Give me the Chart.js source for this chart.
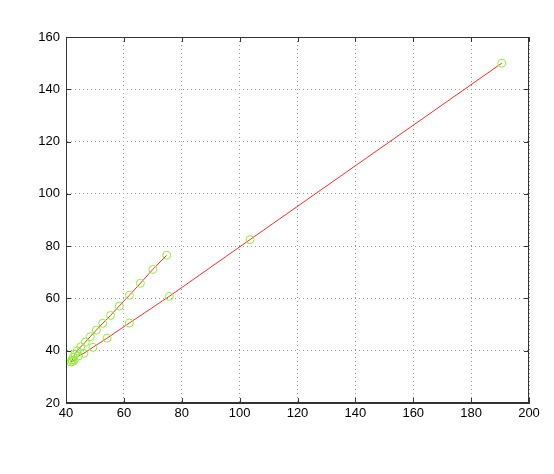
<!DOCTYPE html>
<html>
<head>
<meta charset="utf-8">
<script src="https://cdn.jsdelivr.net/npm/chart.js@4"></script>
<style>
  html, body { margin: 0; padding: 0; background: #fff; }
  #wrap { width: 554px; height: 474px; }
</style>
</head>
<body>
<div id="wrap"><canvas id="trajChart"></canvas></div>
<script>
// one continuous trace: down the upper branch, through the cluster, out along the lower branch
const xValues = [74.8, 70.0, 65.7, 61.9, 58.4, 55.4, 52.7, 50.5, 48.4, 46.7, 45.1, 43.9, 43.1, 42.5, 42.1, 41.7,
                 42.3, 42.8, 44.3, 46.2, 49.3, 54.2, 61.9, 75.7, 103.6, 190.6];
const yValues = [76.5, 71.1, 65.8, 61.2, 57.1, 53.5, 50.5, 47.9, 45.4, 43.3, 41.5, 40.0, 38.7, 37.5, 36.4, 35.7,
                 35.9, 36.4, 38.0, 39.0, 41.3, 44.8, 50.6, 60.8, 82.5, 150.0];
const xTicks = [40, 60, 80, 100, 120, 140, 160, 180, 200];
const yTicks = [20, 40, 60, 80, 100, 120, 140, 160];

const points = xValues.map((x, i) => ({ x: x, y: yValues[i] }));

// box + inward tick marks like the original
const boxPlugin = {
  id: 'box',
  afterDraw(chart) {
    const { ctx, chartArea: a, scales } = chart;
    ctx.save();
    ctx.strokeStyle = '#333';
    ctx.lineWidth = 1;
    ctx.strokeRect(a.left + 0.5, a.top + 0.5, a.right - a.left - 1, a.bottom - a.top - 1);
    ctx.beginPath();
    xTicks.forEach(t => {
      const px = Math.round(scales.x.getPixelForValue(t)) + 0.5;
      ctx.moveTo(px, a.bottom); ctx.lineTo(px, a.bottom - 5);
      ctx.moveTo(px, a.top); ctx.lineTo(px, a.top + 5);
    });
    yTicks.forEach(t => {
      const py = Math.round(scales.y.getPixelForValue(t)) + 0.5;
      ctx.moveTo(a.left, py); ctx.lineTo(a.left + 5, py);
      ctx.moveTo(a.right, py); ctx.lineTo(a.right - 5, py);
    });
    ctx.stroke();
    ctx.restore();
  }
};

const ctx = document.getElementById('trajChart').getContext('2d');
new Chart(ctx, {
  type: 'scatter',
  data: {
    datasets: [{
      data: points,
      showLine: true,
      borderColor: '#ff2a2a',
      borderWidth: 1,
      tension: 0,
      pointStyle: 'circle',
      pointRadius: 4,
      pointBorderWidth: 1,
      pointBorderColor: '#8cf03c',
      pointBackgroundColor: 'rgba(0,0,0,0)'
    }]
  },
  options: {
    responsive: true,
    maintainAspectRatio: false,
    animation: false,
    layout: { padding: { left: 0, right: 25, top: 37, bottom: 46 } },
    plugins: { legend: { display: false }, tooltip: { enabled: false } },
    scales: {
      x: {
        type: 'linear',
        min: 40, max: 200,
        afterBuildTicks: axis => { axis.ticks = xTicks.map(v => ({ value: v })); },
        afterFit: axis => { axis.height = 25; },
        ticks: { color: '#000', font: { family: 'Liberation Sans', size: 13 }, padding: 3, maxRotation: 0, autoSkip: false },
        grid: { color: '#999', drawTicks: false },
        border: { color: '#333', dash: [1, 3] }
      },
      y: {
        type: 'linear',
        min: 20, max: 160,
        afterBuildTicks: axis => { axis.ticks = yTicks.map(v => ({ value: v })); },
        afterFit: axis => { axis.width = 66; },
        ticks: { color: '#000', font: { family: 'Liberation Sans', size: 13 }, padding: 6, autoSkip: false },
        grid: { color: '#999', drawTicks: false },
        border: { color: '#333', dash: [1, 3] }
      }
    }
  },
  plugins: [boxPlugin]
});
</script>
</body>
</html>
